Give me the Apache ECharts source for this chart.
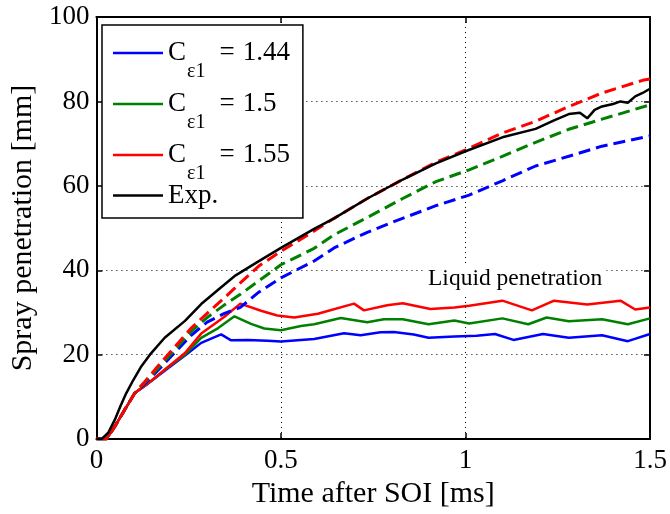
<!DOCTYPE html>
<html>
<head>
<meta charset="utf-8">
<script src="https://cdn.jsdelivr.net/npm/echarts@6/dist/echarts.min.js"></script>
<style>html,body{margin:0;padding:0;background:#fff}#c{width:670px;height:514px}</style>
</head>
<body>
<div id="c"></div>
<script>
// ---- data (time in ms, penetration in mm) ----
var xTicks = [0, 0.5, 1, 1.5];
var yTicks = [0, 20, 40, 60, 80, 100];

var tExp = [0,0.014,0.032,0.05,0.065,0.081,0.10,0.12,0.145,0.185,0.24,0.284,0.33,0.374,0.437,0.5,0.59,0.644,0.734,0.83,0.92,1.0,1.1,1.19,1.24,1.28,1.31,1.33,1.35,1.37,1.40,1.42,1.44,1.46,1.48,1.5];
var yExp = [0,0,1.5,4.6,7.8,10.9,14,17,20,24,28,32,35.4,38.6,42,45.3,49.8,52.3,57,61.5,65.3,68.2,71.5,73.5,75.5,77,77.3,76,78,78.8,79.4,80,79.7,81.2,82,83];

var tLiq144 = [0,0.027,0.05,0.077,0.104,0.14,0.194,0.24,0.284,0.338,0.365,0.41,0.464,0.5,0.545,0.59,0.671,0.716,0.77,0.806,0.86,0.9,0.97,1.03,1.08,1.13,1.21,1.28,1.37,1.44,1.5];
var yLiq144 = [0,0,3,7,10.9,13.2,16.8,19.8,22.8,24.8,23.4,23.5,23.3,23.1,23.4,23.7,25.1,24.6,25.3,25.4,24.8,24.0,24.3,24.5,24.9,23.5,24.9,24.0,24.6,23.2,24.9];

var tLiq150 = [0,0.027,0.05,0.077,0.104,0.14,0.194,0.24,0.284,0.33,0.374,0.419,0.455,0.5,0.554,0.59,0.662,0.734,0.779,0.83,0.9,0.97,1.01,1.1,1.17,1.22,1.28,1.37,1.44,1.5];
var yLiq150 = [0,0,3,7,10.9,13.2,17.0,20.0,24,26.3,29.1,27.3,26.2,25.8,26.8,27.2,28.7,27.7,28.4,28.4,27.2,28.1,27.4,28.6,27.2,28.8,27.9,28.4,27.2,28.6];

var tLiq155 = [0,0.027,0.05,0.077,0.104,0.14,0.194,0.24,0.284,0.347,0.39,0.446,0.49,0.536,0.6,0.698,0.725,0.788,0.83,0.905,0.97,1.01,1.1,1.18,1.24,1.33,1.42,1.46,1.5];
var yLiq155 = [0,0,3,7,10.9,13.2,17.1,20.4,25,29,32.1,30.4,29.3,28.8,29.7,32.1,30.5,31.7,32.2,30.8,31.2,31.6,32.8,30.5,32.8,31.9,32.8,30.7,31.2];

var tVap144 = [0,0.027,0.05,0.077,0.104,0.13,0.167,0.257,0.30,0.347,0.39,0.44,0.5,0.59,0.644,0.734,0.806,0.92,1.01,1.1,1.19,1.28,1.37,1.5];
var yVap144 = [0,0,3,7,10.9,13,16.3,24.6,27.7,29.8,31.2,34.8,38.2,42.2,45.3,49,51.5,55.3,57.8,61.2,64.7,67,69.4,71.8];

var tVap150 = [0,0.027,0.05,0.077,0.104,0.13,0.167,0.257,0.30,0.347,0.39,0.44,0.5,0.59,0.644,0.734,0.83,0.92,1.01,1.1,1.19,1.28,1.37,1.5];
var yVap150 = [0,0,3,7,10.9,13.3,16.8,25.5,28.8,31.8,34.3,37.5,41.3,45.2,48.4,52.5,57,61,63.8,67,70.3,73.4,75.8,79.2];

var tVap155 = [0,0.027,0.05,0.077,0.104,0.13,0.167,0.257,0.30,0.347,0.39,0.44,0.5,0.59,0.644,0.734,0.83,0.92,1.0,1.1,1.19,1.28,1.37,1.48,1.5];
var yVap155 = [0,0,3,7,10.9,13.5,17.3,26.3,29.8,33.5,37,41,44.5,49.3,52.3,57,61.5,65.6,68.5,72.5,75.3,78.8,82,85,85.3];

var legendNames = ['1.44', '1.5', '1.55'];
var legendExp = ['Exp.'];
var annotation = 'Liquid penetration';
var xName = 'Time after SOI [ms]';
var yName = 'Spray penetration [mm]';

// ---- chart ----
function pairs(t, y) { return t.map(function (v, i) { return [v, y[i]]; }); }
var FONT = "'Liberation Serif','Times New Roman',serif";
var BLUE = '#0000ff', GREEN = '#008000', RED = '#ff0000', BLACK = '#000000';

function solid(name, t, y, color, z) {
  return { name: name, type: 'line', data: pairs(t, y), symbol: 'none', showSymbol: false, z: z,
    lineStyle: { color: color, width: 2.5 }, itemStyle: { color: color }, animation: false };
}
function dashed(name, t, y, color, z) {
  return { name: name, type: 'line', data: pairs(t, y), symbol: 'none', showSymbol: false, z: z,
    lineStyle: { color: color, width: 3, type: [12, 6] }, itemStyle: { color: color }, animation: false };
}

var chart = echarts.init(document.getElementById('c'), null, { renderer: 'canvas' });
var gridLine = { show: true, lineStyle: { color: '#000', width: 1, type: [1, 4] } };
var tickStyle = { show: true, inside: true, length: 6, lineStyle: { color: '#000', width: 1.5 } };
var axisLineStyle = { show: true, onZero: false, lineStyle: { color: '#000', width: 2 } };
var richStyles = {
  c: { fontFamily: FONT, fontSize: 27, lineHeight: 32, padding: [2, 0, 0, 0], verticalAlign: 'top', color: '#000' },
  s: { fontFamily: FONT, fontSize: 20, lineHeight: 20, padding: [25, 0, 0, 1], verticalAlign: 'top', color: '#000' },
  e: { fontFamily: FONT, fontSize: 27, lineHeight: 32, padding: [2, 8, 0, 14], verticalAlign: 'top', color: '#000' },
  t: { fontFamily: FONT, fontSize: 27, lineHeight: 32, padding: [2, 0, 0, 0], verticalAlign: 'top', color: '#000' },
  x: { fontFamily: FONT, fontSize: 27, lineHeight: 32, color: '#000' }
};
var option = {
  animation: false,
  backgroundColor: '#fff',
  textStyle: { fontFamily: FONT },
  grid: { left: 95, right: 20, top: 17, bottom: 71, containLabel: false },
  xAxis: [{
    type: 'value', min: xTicks[0], max: xTicks[xTicks.length - 1], interval: 0.5,
    position: 'bottom',
    name: xName, nameLocation: 'middle', nameGap: 36,
    nameTextStyle: { fontFamily: FONT, fontSize: 30, color: '#000' },
    axisLine: axisLineStyle, axisTick: tickStyle,
    axisLabel: { fontFamily: FONT, fontSize: 27, color: '#000', margin: 8,
      formatter: function (v) { return String(v); } },
    splitLine: gridLine
  }, {
    type: 'value', min: xTicks[0], max: xTicks[xTicks.length - 1], interval: 0.5,
    position: 'top',
    axisLine: axisLineStyle, axisTick: tickStyle,
    axisLabel: { show: false }, splitLine: { show: false }
  }],
  yAxis: [{
    type: 'value', min: yTicks[0], max: yTicks[yTicks.length - 1], interval: 20,
    position: 'left',
    name: yName, nameLocation: 'middle', nameGap: 56, nameRotate: 90,
    nameTextStyle: { fontFamily: FONT, fontSize: 30, color: '#000' },
    axisLine: axisLineStyle, axisTick: tickStyle,
    axisLabel: { fontFamily: FONT, fontSize: 27, color: '#000', margin: 7 },
    splitLine: gridLine
  }, {
    type: 'value', min: yTicks[0], max: yTicks[yTicks.length - 1], interval: 20,
    position: 'right',
    axisLine: axisLineStyle, axisTick: tickStyle,
    axisLabel: { show: false }, splitLine: { show: false }
  }],
  legend: [{
    data: legendNames,
    orient: 'vertical',
    left: 102, top: 25,
    padding: [12, 13, 34, 11],
    itemGap: 6,
    icon: 'rect',
    itemWidth: 50, itemHeight: 2.5,
    selectedMode: false,
    backgroundColor: '#fff',
    borderColor: '#000', borderWidth: 1.5,
    z: 10,
    formatter: function (n) { return '{c|C}{s|ε1}{e|=}{t|' + n + '}'; },
    textStyle: { fontFamily: FONT, color: '#000', rich: richStyles }
  }, {
    data: legendExp,
    orient: 'vertical',
    left: 102, top: 182,
    padding: [0, 0, 0, 11],
    icon: 'rect',
    itemWidth: 50, itemHeight: 2.5,
    selectedMode: false,
    z: 11,
    formatter: function (n) { return '{x|' + n + '}'; },
    textStyle: { fontFamily: FONT, color: '#000', rich: richStyles }
  }],
  graphic: [{
    type: 'text', left: 424, top: 265, z: 5,
    style: { text: annotation, font: "23.5px 'Liberation Serif','Times New Roman',serif", fill: '#000',
      backgroundColor: '#fff', padding: [2, 4, 2, 4] }
  }],
  series: [
    solid('1.44', tLiq144, yLiq144, BLUE, 2),
    solid('1.5', tLiq150, yLiq150, GREEN, 3),
    solid('1.55', tLiq155, yLiq155, RED, 4),
    dashed('vap1.44', tVap144, yVap144, BLUE, 5),
    dashed('vap1.5', tVap150, yVap150, GREEN, 6),
    dashed('vap1.55', tVap155, yVap155, RED, 7),
    solid('Exp.', tExp, yExp, BLACK, 8)
  ]
};
chart.setOption(option);
</script>
</body>
</html>
